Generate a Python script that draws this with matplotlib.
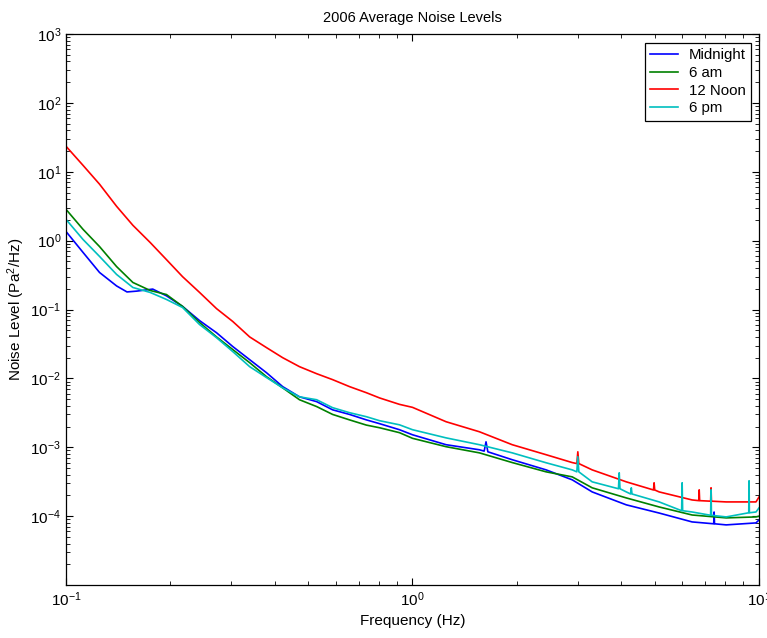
import matplotlib.pyplot as plt

# frequency (Hz) and noise level (Pa^2/Hz)
midnight_f = [0.1, 0.112, 0.125, 0.14, 0.15, 0.16, 0.178, 0.195, 0.217, 0.243, 0.272, 0.303,
              0.339, 0.379, 0.422, 0.472, 0.529, 0.588, 0.658, 0.736, 0.804, 0.917, 1.0, 1.25,
              1.56, 1.61, 1.63, 1.65, 1.94, 2.43, 2.89, 3.3, 4.14, 5.15, 6.41, 7.40, 7.42, 7.44,
              8.04, 9.8, 10.0]
midnight_v = [1.36, 0.675, 0.345, 0.22, 0.18, 0.185, 0.198, 0.158, 0.111, 0.069, 0.046, 0.029,
              0.0187, 0.0121, 0.0076, 0.0054, 0.0046, 0.0035, 0.0030, 0.0025, 0.0022, 0.0018, 0.00152, 0.00109,
              0.00092, 0.00088, 0.0012, 0.00086, 0.00066, 0.00047, 0.000337, 0.000225, 0.000146, 0.000111,
              0.0000825, 0.0000775, 0.000115, 0.0000775, 0.0000747, 0.0000798, 0.0000882]

am6_f = [0.1, 0.112, 0.125, 0.14, 0.156, 0.175, 0.195, 0.217, 0.243, 0.272, 0.303, 0.339,
         0.379, 0.422, 0.472, 0.529, 0.588, 0.658, 0.736, 0.804, 0.917, 1.0, 1.25, 1.56,
         1.94, 2.43, 2.89, 3.3, 4.14, 5.15, 6.41, 8.04, 9.8, 10.0]
am6_v = [2.85, 1.46, 0.82, 0.42, 0.247, 0.189, 0.165, 0.111, 0.0647, 0.040, 0.0262, 0.0169,
         0.0106, 0.0073, 0.0049, 0.0039, 0.0030, 0.0025, 0.0021, 0.00192, 0.00163, 0.00135, 0.00102, 0.00083,
         0.00060, 0.00044, 0.000372, 0.000258, 0.000184, 0.000136, 0.000104, 0.0000944, 0.0000975, 0.0001]

noon_f = [0.1, 0.112, 0.125, 0.14, 0.156, 0.175, 0.195, 0.217, 0.243, 0.272, 0.303, 0.339,
          0.379, 0.422, 0.472, 0.529, 0.588, 0.658, 0.736, 0.804, 0.917, 1.0, 1.25, 1.56,
          1.94, 2.43, 2.89, 2.98, 3.0, 3.02, 3.3, 4.14, 4.96, 4.98, 5.0, 5.15, 6.41, 6.70,
          6.72, 6.74, 7.25, 7.27, 7.29, 8.04, 9.8, 10.0]
noon_v = [23.5, 12.4, 6.6, 3.15, 1.67, 0.94, 0.53, 0.30, 0.177, 0.103, 0.067, 0.040,
          0.028, 0.020, 0.0148, 0.0117, 0.0096, 0.0076, 0.0062, 0.0052, 0.0042, 0.0038, 0.00235, 0.00168,
          0.00109, 0.00078, 0.00060, 0.00058, 0.00086, 0.00058, 0.00047, 0.000315, 0.00024, 0.000305,
          0.00024, 0.000225, 0.000172, 0.000168, 0.000241, 0.000168, 0.000165, 0.000258, 0.000165,
          0.000161, 0.000161, 0.00019]

pm6_f = [0.1, 0.112, 0.125, 0.14, 0.156, 0.175, 0.195, 0.217, 0.243, 0.272, 0.303, 0.339,
         0.379, 0.422, 0.472, 0.529, 0.588, 0.658, 0.736, 0.804, 0.917, 1.0, 1.25, 1.56,
         1.94, 2.43, 2.89, 2.98, 3.0, 3.02, 3.3, 3.93, 3.95, 3.97, 4.14, 4.26, 4.28, 4.30,
         5.15, 5.98, 6.0, 6.02, 6.41, 7.25, 7.27, 7.29, 8.04, 9.34, 9.36, 9.38, 9.8, 10.0]
pm6_v = [2.04, 1.04, 0.59, 0.323, 0.209, 0.177, 0.140, 0.107, 0.0605, 0.039, 0.0245, 0.0148,
         0.0103, 0.0073, 0.0054, 0.0049, 0.00376, 0.00318, 0.00278, 0.00243, 0.00212, 0.0018, 0.00137, 0.00109,
         0.00083, 0.000596, 0.00047, 0.00044, 0.00073, 0.00044, 0.000315, 0.00025, 0.000426, 0.00025,
         0.000225, 0.00021, 0.000258, 0.00021, 0.000161, 0.00012, 0.000305, 0.00012, 0.000115,
         0.000103, 0.000241, 0.000103, 0.0000975, 0.000112, 0.000326, 0.000112, 0.000115, 0.000132]

labels = ['Midnight', '6 am', '12 Noon', '6 pm']
colors = ['#0000ff', '#008000', '#ff0000', '#00bfbf']

plt.rcParams['font.family'] = ['Liberation Sans', 'DejaVu Sans']
plt.rcParams['mathtext.default'] = 'regular'

fig = plt.figure(figsize=(7.67, 6.38), dpi=100)
ax = fig.add_axes([0.086, 0.083, 0.9036, 0.8637])

series = [(midnight_f, midnight_v), (am6_f, am6_v), (noon_f, noon_v), (pm6_f, pm6_v)]
for (f, v), lab, c in zip(series, labels, colors):
    ax.loglog(f, v, color=c, lw=1.2, label=lab)

ax.set_xlim(0.1, 10)
ax.set_ylim(1e-5, 1e3)
ax.set_yticks([1e-4, 1e-3, 1e-2, 1e-1, 1e0, 1e1, 1e2, 1e3])
ax.tick_params(which='both', direction='in', top=True, right=True, labelsize=11)
ax.tick_params(which='major', length=5)
ax.tick_params(which='minor', length=3)
for s in ax.spines.values():
    s.set_linewidth(0.9)

ax.set_title('2006 Average Noise Levels', fontsize=10.5, pad=9)
ax.set_xlabel('Frequency (Hz)', fontsize=11)
ax.set_ylabel('Noise Level (Pa$^2$/Hz)', fontsize=11)
ax.yaxis.set_label_coords(-0.056, 0.5)

leg = ax.legend(loc='upper right', bbox_to_anchor=(0.9885, 0.984), fontsize=10.8,
                fancybox=False, framealpha=1, edgecolor='black', handlelength=1.9,
                borderpad=0.35, labelspacing=0.25, handletextpad=0.7, borderaxespad=0)
leg.get_frame().set_linewidth(0.9)

fig.savefig('out.png', dpi=100)
